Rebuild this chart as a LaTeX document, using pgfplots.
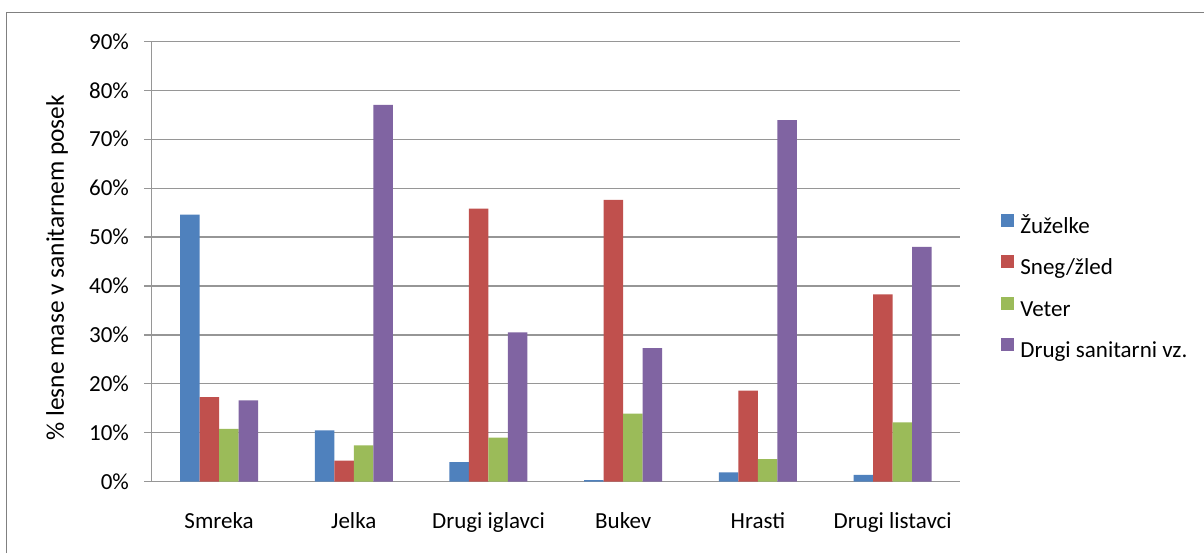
\documentclass[border=0pt]{standalone}
\usepackage{fontspec}
\setmainfont{Carlito}
\usepackage{pgfplots}
\pgfplotsset{compat=1.18}
\definecolor{cblue}{HTML}{4F81BD}
\definecolor{cred}{HTML}{C0504D}
\definecolor{cgreen}{HTML}{9BBB59}
\definecolor{cpurple}{HTML}{8064A2}
\definecolor{gridgray}{HTML}{969696}
\definecolor{framegray}{HTML}{808080}
\begin{document}
\begin{tikzpicture}[x=0.5pt,y=0.5pt]
\useasboundingbox (0,0) rectangle (1204,553);
\fill[white] (0,0) rectangle (1204,553);
\draw[line width=0.75pt, color=framegray] (6.7,0) -- (6.7,540.3) -- (1204,540.3);
\begin{axis}[
  at={(75.85pt,35.65pt)}, anchor=south west,
  width=404.15pt, height=220.2pt, scale only axis,
  xmin=-0.5, xmax=5.5, ymin=0, ymax=90,
  ybar=0pt, bar width=9.75pt,
  xtick={0,...,5},
  xticklabels={Smreka,Jelka,Drugi iglavci,Bukev,Hrasti,Drugi listavci},
  x tick style={draw=none},
  ytick={0,10,...,90},
  yticklabel={\pgfmathprintnumber{\tick}\%},
  /pgf/number format/assume math mode=true,
  ymajorgrids,
  major grid style={gridgray, line width=0.6pt},
  axis x line*=bottom, axis y line*=left,
  axis line style={gridgray, line width=0.6pt, -},
  y tick style={gridgray, line width=0.6pt},
  tick align=outside, major tick length=3.85pt,
  tick label style={font=\fontsize{11.5}{13}\selectfont, text=black},
  xticklabel style={yshift=-8pt},
  yticklabel style={xshift=-4pt},
  ylabel={\% lesne mase v sanitarnem posek},
  ylabel style={font=\fontsize{12.7}{14}\selectfont, at={(axis description cs:-0.117,0.486)}, anchor=center},
  legend cell align=left,
  legend style={at={(axis description cs:1.0433,0.619)}, anchor=north west,
    draw=none, fill=none, font=\fontsize{11.5}{13}\selectfont,
    nodes={inner sep=0pt, text height=8pt, text depth=2pt},
    row sep=9pt, column sep=3pt},
  every axis plot post/.append style={legend image code/.code={\fill[#1] (0pt,0.3pt) rectangle (6.5pt,6.8pt);}},
]
\addplot[fill=cblue, draw=none] coordinates {(0,54.6) (1,10.5) (2,4.0) (3,0.3) (4,1.9) (5,1.4)};
\addplot[fill=cred, draw=none] coordinates {(0,17.3) (1,4.3) (2,55.8) (3,57.6) (4,18.6) (5,38.3)};
\addplot[fill=cgreen, draw=none] coordinates {(0,10.8) (1,7.4) (2,9.0) (3,13.9) (4,4.6) (5,12.1)};
\addplot[fill=cpurple, draw=none] coordinates {(0,16.6) (1,77.0) (2,30.5) (3,27.3) (4,73.9) (5,48.0)};
\legend{Žuželke, Sneg/žled, Veter, Drugi sanitarni vz.}
\end{axis}
\end{tikzpicture}
\end{document}
